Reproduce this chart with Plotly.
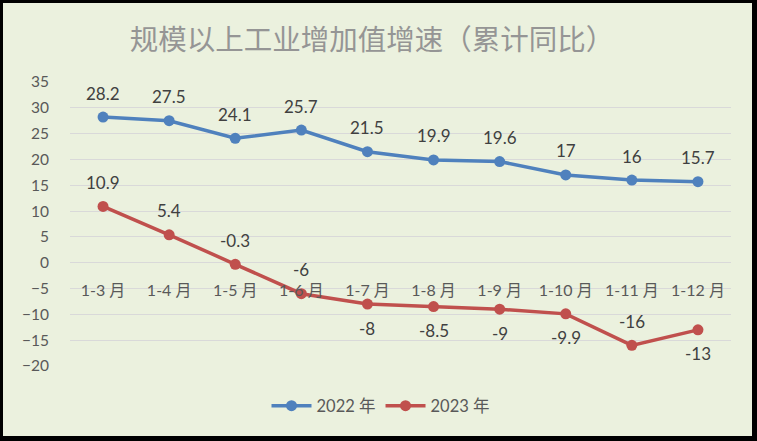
import plotly.graph_objects as go

months = ["1-3 月", "1-4 月", "1-5 月", "1-6 月", "1-7 月",
          "1-8 月", "1-9 月", "1-10 月", "1-11 月", "1-12 月"]
y2022 = [28.2, 27.5, 24.1, 25.7, 21.5, 19.9, 19.6, 17, 16, 15.7]
y2023 = [10.9, 5.4, -0.3, -6, -8, -8.5, -9, -9.9, -16, -13]
# label side for the 2023 series: 1 = above, -1 = below
side2023 = [1, 1, 1, 1, -1, -1, -1, -1, 1, -1]

BLUE = "#4F81BD"
RED = "#C0504D"
BG = "#EBF1DE"
FONT = "Lato, Noto Sans CJK SC, sans-serif"

fig = go.Figure()
fig.add_trace(go.Scatter(x=months, y=y2022, name="2022 年", mode="lines+markers",
                         line=dict(color=BLUE, width=3.5),
                         marker=dict(size=11, color=BLUE)))
fig.add_trace(go.Scatter(x=months, y=y2023, name="2023 年", mode="lines+markers",
                         line=dict(color=RED, width=3.5),
                         marker=dict(size=11, color=RED)))

# data labels
for m, v in zip(months, y2022):
    fig.add_annotation(x=m, y=v, text=f"{v:g}", showarrow=False, yshift=24,
                       font=dict(family=FONT, size=17, color="#404040"))
for m, v, s in zip(months, y2023, side2023):
    fig.add_annotation(x=m, y=v, text=f"{v:g}", showarrow=False, yshift=24 * s,
                       font=dict(family=FONT, size=17, color="#404040"))

# black frame with light green fill
fig.add_shape(type="rect", xref="paper", yref="paper", layer="below",
              x0=(3 - 70) / 661, x1=(752 - 70) / 661,
              y0=(366 - 436) / 284, y1=(366 - 3) / 284,
              fillcolor=BG, line=dict(width=0))

fig.update_layout(
    width=757, height=441,
    margin=dict(l=70, r=26, t=82, b=75, autoexpand=False),
    paper_bgcolor="black",
    plot_bgcolor="rgba(0,0,0,0)",
    font=dict(family=FONT, size=15, color="#595959"),
    title=dict(text="规模以上工业增加值增速（累计同比）", x=372 / 757, xanchor="center",
               y=1 - 40 / 441, yanchor="middle",
               font=dict(family="Noto Sans CJK SC", size=28.5, color="#959595")),
    showlegend=True,
    legend=dict(orientation="h", x=(381 - 70) / 661, xanchor="center",
                y=(366 - 406) / 284, yanchor="middle", itemwidth=40,
                bgcolor="rgba(0,0,0,0)",
                font=dict(family=FONT, size=16.5, color="#595959")),
    xaxis=dict(anchor="free", position=20 / 55, range=[-0.5, 9.5],
               showgrid=False, showline=False,
               ticks="", ticklabelstandoff=16, automargin=False,
               tickfont=dict(family=FONT, size=16, color="#595959")),
    yaxis=dict(range=[-20, 35], dtick=5, showgrid=True, gridcolor="#D9D9D9",
               gridwidth=1, zeroline=False, showline=False, ticks="",
               ticklabelstandoff=20, automargin=False,
               tickfont=dict(family=FONT, size=15.5, color="#595959")),
)

fig.write_html("out.html", config={"displayModeBar": False},
               post_script="document.body.style.margin = '0';")
